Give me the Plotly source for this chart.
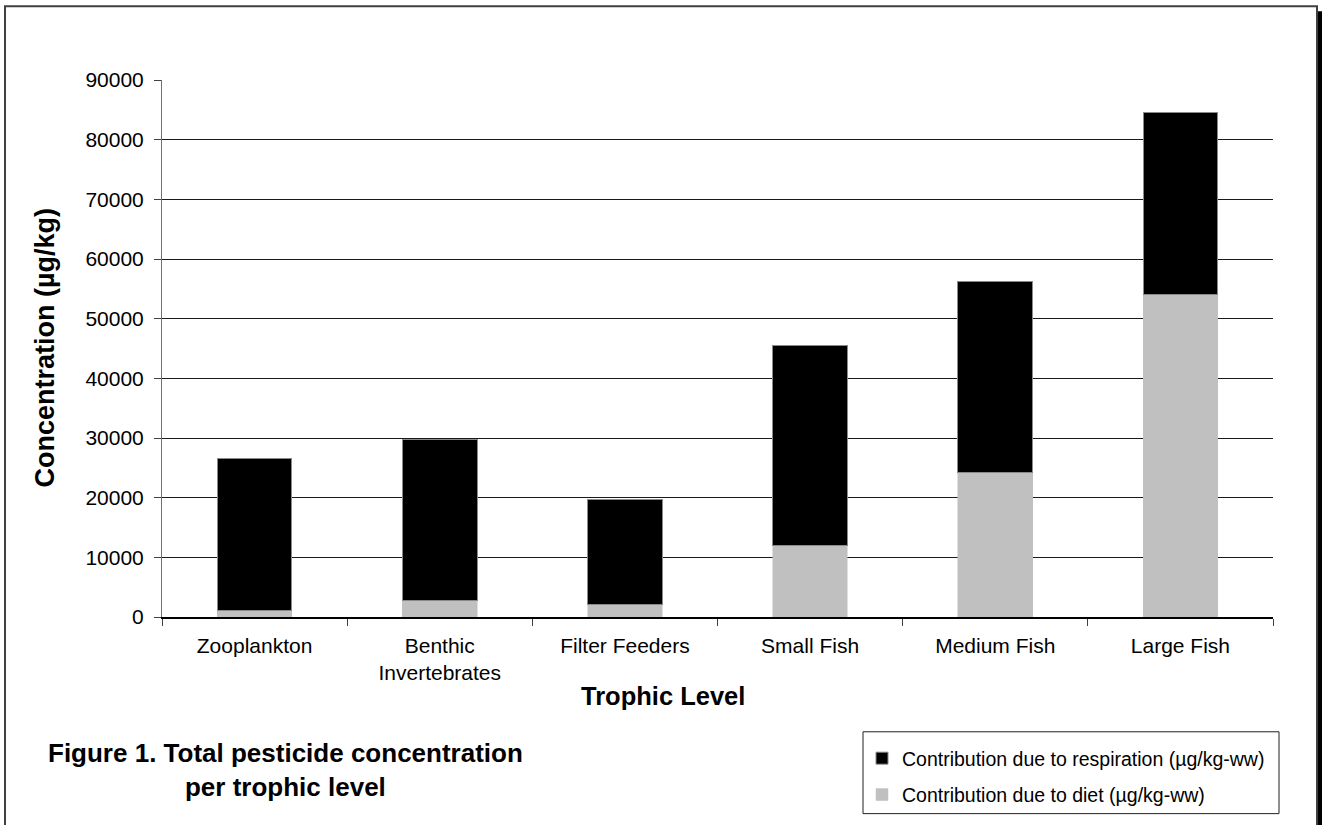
import plotly.graph_objects as go

categories = ["Zooplankton", "Benthic<br>Invertebrates", "Filter Feeders", "Small Fish", "Medium Fish", "Large Fish"]
diet = [1100, 2800, 2100, 12000, 24200, 54000]
respiration = [25400, 26900, 17600, 33500, 32100, 30600]
y_ticks = [0, 10000, 20000, 30000, 40000, 50000, 60000, 70000, 80000, 90000]
y_ticktext = [str(v) for v in y_ticks]

FONT = "Liberation Sans, Arial, sans-serif"

W, H = 1322, 825
L, R, T, B = 162, 49, 80, 207
PW = W - L - R
PH = H - T - B


def px(xs):
    return (xs - L) / PW


def py(ys):
    return (H - B - ys) / PH


fig = go.Figure()
fig.add_trace(go.Bar(
    x=categories, y=diet, name="Contribution due to diet (µg/kg-ww)",
    marker=dict(color="#c0c0c0", line=dict(color="#c0c0c0", width=0.5)),
    width=0.403, legendgroup="diet", legendrank=2,
))
fig.add_trace(go.Bar(
    x=categories, y=respiration, name="Contribution due to respiration (µg/kg-ww)",
    marker=dict(color="#000000", line=dict(color="#8a8a8a", width=1)),
    width=0.403, legendgroup="resp", legendrank=1,
))

fig.update_layout(
    width=W, height=H,
    barmode="stack",
    paper_bgcolor="white", plot_bgcolor="white",
    margin=dict(l=L, r=R, t=T, b=B, pad=0),
    font=dict(family=FONT, size=21, color="black"),
    showlegend=True,
    legend=dict(
        traceorder="grouped",
        x=px(862), xanchor="left",
        y=py(739), yanchor="top",
        bgcolor="rgba(0,0,0,0)", borderwidth=0,
        font=dict(family=FONT, size=19.5),
        tracegroupgap=8,
    ),
    xaxis=dict(
        type="category", tickson="boundaries", ticks="outside", ticklen=7,
        tickcolor="#404040", showline=True, linecolor="black", linewidth=1.5,
        showgrid=False, tickfont=dict(size=21), fixedrange=True,
        ticklabelstandoff=9,
    ),
    yaxis=dict(
        range=[0, 90000], tickvals=y_ticks, ticktext=y_ticktext,
        ticks="outside", ticklen=7,
        tickcolor="#404040", showline=True, linecolor="#707070", linewidth=1,
        showgrid=True, gridcolor="#1a1a1a", gridwidth=1,
        tickfont=dict(size=21), zeroline=False, ticklabelstandoff=6,
        fixedrange=True,
    ),
    annotations=[
        dict(text="<b>Concentration (µg/kg)</b>", textangle=-90, xref="paper", yref="paper",
             x=px(45), y=py(348), showarrow=False,
             font=dict(size=27, family=FONT), xanchor="center", yanchor="middle"),
        dict(text="<b>Trophic Level</b>", xref="paper", yref="paper",
             x=px(663), y=py(697), showarrow=False,
             font=dict(size=25.5, family=FONT), xanchor="center", yanchor="middle"),
        dict(text="<b>Figure 1. Total pesticide concentration<br>per trophic level</b>",
             xref="paper", yref="paper", x=px(285), y=py(771),
             showarrow=False, align="center", font=dict(size=26, family=FONT),
             xanchor="center", yanchor="middle"),
    ],
    shapes=[
        # legend box
        dict(type="rect", xref="paper", yref="paper",
             x0=px(863), x1=px(1279), y0=py(733), y1=py(815),
             fillcolor="rgba(0,0,0,0)", line=dict(color="#202020", width=1)),
        # outer frame shadow
        dict(type="rect", xref="paper", yref="paper",
             x0=px(1318), x1=px(1330), y0=py(11), y1=py(840),
             fillcolor="black", line=dict(width=0), layer="below"),
        # outer frame
        dict(type="rect", xref="paper", yref="paper",
             x0=px(5), x1=px(1317), y0=py(6), y1=py(840),
             fillcolor="rgba(0,0,0,0)", line=dict(color="#404040", width=2), layer="below"),
    ],
)

fig.write_html(
    "out.html",
    config={"displayModeBar": False},
    post_script="document.body.style.margin='0';document.body.style.overflow='hidden';",
)
